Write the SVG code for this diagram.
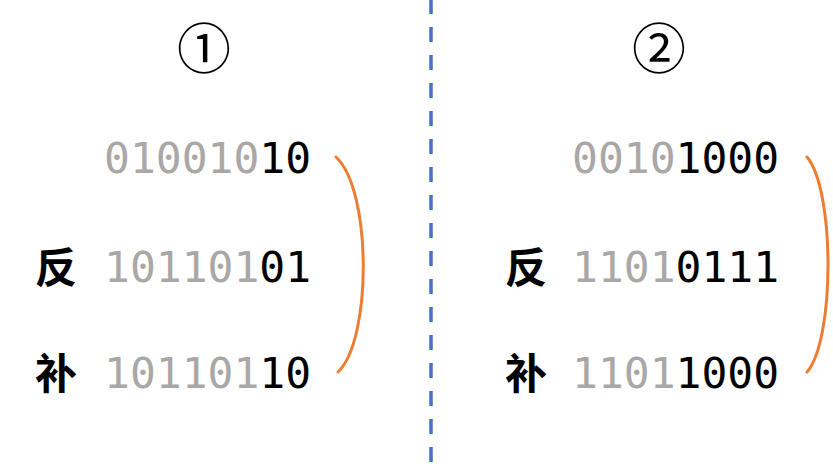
<svg xmlns="http://www.w3.org/2000/svg" width="833" height="464" viewBox="0 0 833 464">
<style>
.num{font-family:"DejaVu Sans Mono","Liberation Mono",monospace;font-size:43px;fill:#000}
.g{fill:#aaa7a7}
.cj{font-family:"Noto Sans CJK SC",sans-serif;font-size:42px;font-weight:bold;fill:#000}
.circ{font-family:"Noto Sans CJK SC",sans-serif;font-size:54px;fill:#000}
.br{fill:none;stroke:#ED7D31;stroke-width:3;stroke-linecap:round}
</style>
<rect width="833" height="464" fill="#fff"/>
<g id="divider">
<line x1="431" y1="-1" x2="431" y2="464" stroke="#4472C4" stroke-width="3.5" stroke-dasharray="15 13"/>
</g>
<g id="case1">
<text class="circ" x="204" y="69" text-anchor="middle">①</text>
<text class="num" x="104" y="173"><tspan class="g">010010</tspan>10</text>
<text class="cj" x="35" y="283">反</text>
<text class="num" x="104" y="282"><tspan class="g">101101</tspan>01</text>
<text class="cj" x="35" y="389">补</text>
<text class="num" x="104" y="388"><tspan class="g">101101</tspan>10</text>
</g>
<g id="case2">
<text class="circ" x="659" y="69" text-anchor="middle">②</text>
<text class="num" x="572" y="173"><tspan class="g">0010</tspan>1000</text>
<text class="cj" x="505" y="283">反</text>
<text class="num" x="572" y="282"><tspan class="g">1101</tspan>0111</text>
<text class="cj" x="505" y="389">补</text>
<text class="num" x="572" y="388"><tspan class="g">1101</tspan>1000</text>
</g>
<g id="connectors">
<path class="br" d="M336,157 C372,190 372,340 338,372"/>
<path class="br" d="M807,157 C835,190 835,340 807,372"/>
</g>
</svg>
